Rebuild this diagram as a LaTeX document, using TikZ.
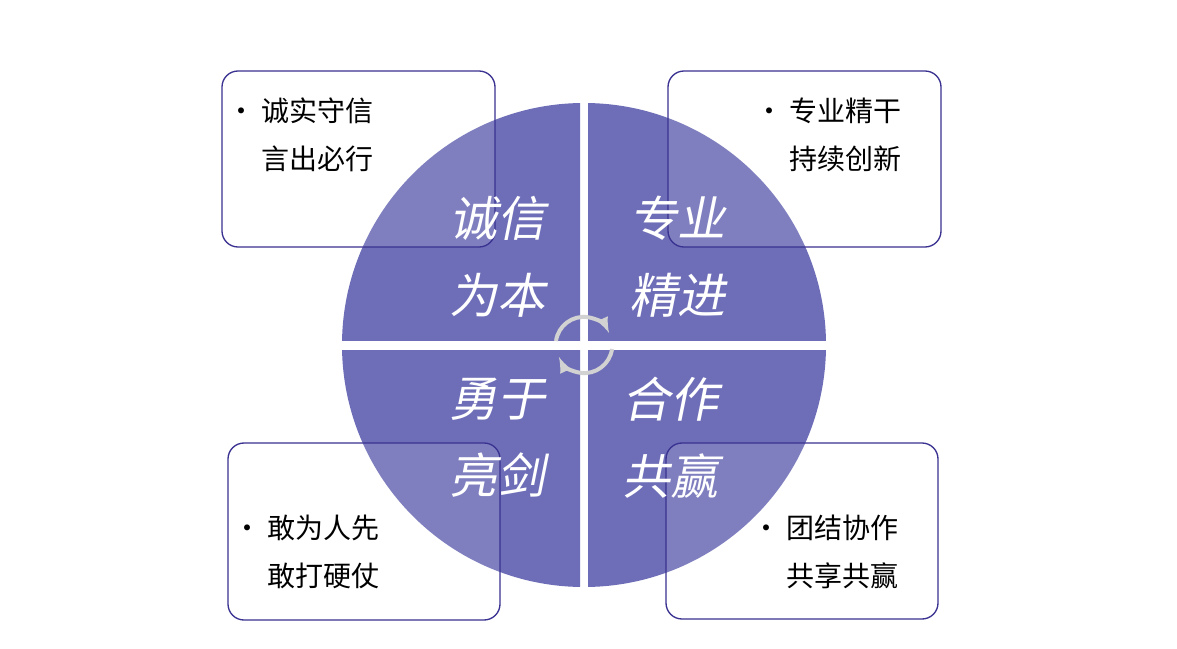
\documentclass[tikz,border=0pt]{standalone}
\usepackage{fontspec}
\setmainfont{Noto Sans CJK SC}
\newfontfamily\cjkit[FakeSlant=0.2]{Noto Sans CJK SC}
\begin{document}
\begin{tikzpicture}[x=0.75pt,y=-0.75pt,
  quad/.style={fill=qcol},
  infobox/.style={draw=bdcol,line width=1pt,rounded corners=12pt,fill=white,fill opacity=0.12},
  big/.style={text=white,font=\cjkit\fontsize{36}{58}\selectfont,align=center},
  small/.style={font=\fontsize{21}{36}\selectfont,align=left,anchor=north west}]
\definecolor{qcol}{HTML}{6E6EB8}
\definecolor{bdcol}{HTML}{3A3290}
\useasboundingbox (0,0) rectangle (1177,649);
\fill[white] (0,0) rectangle (1177,649);
\coordinate (c) at (584,345);
% quadrants
\begin{scope}\clip (0,0) rectangle (580,340);\fill[quad] (c) circle[radius=242];\end{scope}
\begin{scope}\clip (588,0) rectangle (1177,340);\fill[quad] (c) circle[radius=242];\end{scope}
\begin{scope}\clip (0,350) rectangle (580,649);\fill[quad] (c) circle[radius=242];\end{scope}
\begin{scope}\clip (588,350) rectangle (1177,649);\fill[quad] (c) circle[radius=242];\end{scope}
% center arrows
\draw[gray!35,line width=3pt,-latex] ([shift={(-28,-4)}]c) arc[start angle=-172,end angle=-25,radius=28];
\draw[gray!35,line width=3pt,-latex] ([shift={(28,4)}]c) arc[start angle=8,end angle=155,radius=28];
% boxes
\draw[infobox] (222,71) rectangle (495,247);
\draw[infobox] (668,71) rectangle (941,247);
\draw[infobox] (228,443) rectangle (500,620);
\draw[infobox] (666,443) rectangle (938,619);
\node[small] (t1) at (223,93) {• 诚实守信\\\phantom{• }言出必行};
\node[small] (t2) at (751,93) {• 专业精干\\\phantom{• }持续创新};
\node[small] (t3) at (229,510) {• 敢为人先\\\phantom{• }敢打硬仗};
\node[small] (t4) at (748,510) {• 团结协作\\\phantom{• }共享共赢};
% quadrant titles
\node[big] (q1) at (497,257) {诚信\\为本};
\node[big] (q2) at (677,257) {专业\\精进};
\node[big] (q3) at (497,438) {勇于\\亮剑};
\node[big] (q4) at (670,438) {合作\\共赢};
\end{tikzpicture}
\end{document}
